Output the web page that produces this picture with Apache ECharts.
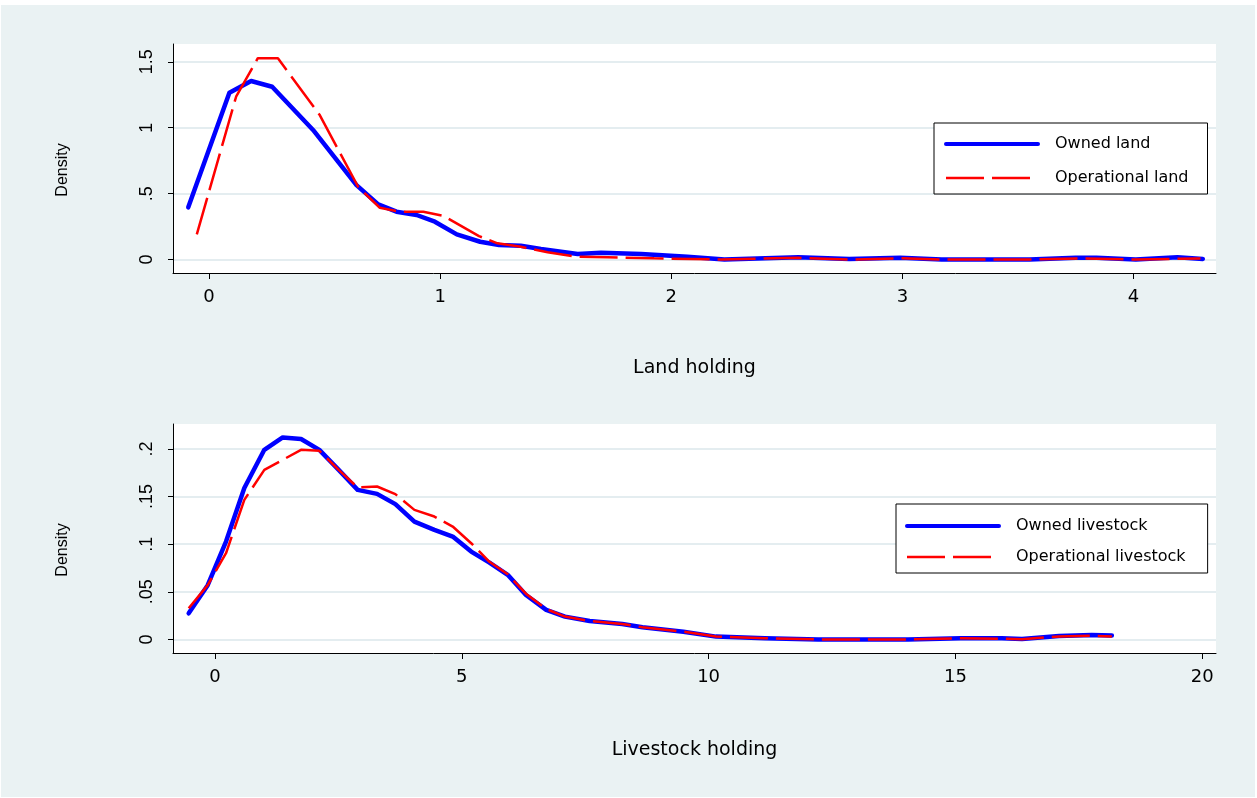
<!DOCTYPE html>
<html>
<head>
<meta charset="utf-8">
<title>Land and livestock holding densities</title>
<script src="https://cdn.jsdelivr.net/npm/echarts@6/dist/echarts.min.js"></script>
<style>
  html, body { margin: 0; padding: 0; background: #fff; }
  #bg { position: absolute; left: 1px; top: 5px; width: 1254px; height: 792px; background: #eaf2f3; }
  #chart { position: absolute; left: 0; top: 0; width: 1257px; height: 798px; }
</style>
</head>
<body>
<div id="bg"></div>
<div id="chart"></div>
<script>
// 上图：土地 (Land holding)
const landOwnedX = [-0.09, 0.088, 0.182, 0.273, 0.45, 0.638, 0.732, 0.811, 0.898, 0.977, 1.072, 1.173, 1.255, 1.349, 1.436, 1.595, 1.696, 1.87, 2.07, 2.23, 2.55, 2.77, 2.99, 3.17, 3.55, 3.75, 3.84, 4.01, 4.19, 4.30];
const landOwnedY = [0.396, 1.266, 1.354, 1.311, 0.983, 0.565, 0.419, 0.363, 0.338, 0.287, 0.191, 0.135, 0.11, 0.105, 0.08, 0.042, 0.052, 0.042, 0.021, 0.0, 0.018, 0.005, 0.013, 0.0, 0.0, 0.013, 0.013, 0.0, 0.018, 0.005];
const landOperX = [-0.053, 0.117, 0.211, 0.298, 0.479, 0.645, 0.739, 0.826, 0.927, 1.014, 1.168, 1.248, 1.349, 1.465, 1.595, 1.725, 1.926, 2.217, 2.55, 2.77, 2.99, 3.17, 3.55, 3.78, 4.01, 4.29];
const landOperY = [0.191, 1.235, 1.527, 1.527, 1.096, 0.552, 0.393, 0.363, 0.363, 0.332, 0.178, 0.123, 0.097, 0.055, 0.021, 0.017, 0.009, 0.0, 0.013, 0.0, 0.01, 0.0, 0.0, 0.008, 0.0, 0.008];
const landXTicks = [0, 1, 2, 3, 4];
const landYTicks = [0, 0.5, 1, 1.5];

// 下图：牲畜 (Livestock holding)
const stockX = [-0.533, -0.148, 0.223, 0.594, 0.999, 1.372, 1.743, 2.114, 2.506, 2.89, 3.283, 3.654, 4.04, 4.444, 4.816, 5.19, 5.56, 5.93, 6.30, 6.71, 7.09, 7.59, 8.25, 8.66, 9.49, 10.15, 11.14, 12.22, 14.04, 15.11, 15.94, 16.35, 17.1, 17.76, 18.17];
const stockOwnedY = [0.0275, 0.057, 0.1027, 0.159, 0.199, 0.212, 0.2103, 0.199, 0.178, 0.157, 0.1528, 0.142, 0.1237, 0.115, 0.108, 0.0922, 0.0807, 0.0678, 0.0467, 0.031, 0.024, 0.0194, 0.0163, 0.0128, 0.0082, 0.003, 0.0013, 0, 0, 0.0013, 0.0013, 0.0005, 0.0037, 0.0047, 0.0042];
const stockOperY = [0.0328, 0.057, 0.0905, 0.1465, 0.178, 0.1885, 0.199, 0.198, 0.178, 0.1595, 0.1605, 0.1525, 0.136, 0.129, 0.1185, 0.101, 0.0815, 0.0685, 0.048, 0.032, 0.024, 0.0194, 0.0163, 0.0128, 0.0082, 0.003, 0.0013, 0, 0, 0.0013, 0.0008, 0.0002, 0.0032, 0.004, 0.003];
const stockXTicks = [0, 5, 10, 15, 20];
const stockYTicks = [0, 0.05, 0.1, 0.15, 0.2];

const BLUE = '#0000ff';
const RED = '#ff0000';
const GRIDLINE = '#e4edf0';
const DASH = [38, 8];

const pairs = (xs, ys) => xs.map((x, i) => [x, ys[i]]);
// Stata 风格: 0.5 -> .5
const dotFmt = v => String(v).replace(/^0\./, '.');

function makeXAxis(gridIndex, min, max, ticks, name, nameGap) {
    return {
        type: 'value', gridIndex, min, max,
        name, nameLocation: 'middle', nameGap,
        nameTextStyle: { fontFamily: 'DejaVu Sans', fontSize: 19, color: '#000' },
        axisLine: { show: true, onZero: false, lineStyle: { color: '#000', width: 1 } },
        axisTick: { show: true, length: 6, customValues: ticks, lineStyle: { color: '#000' } },
        axisLabel: { customValues: ticks, margin: 15, fontFamily: 'DejaVu Sans', fontSize: 18, color: '#000' },
        splitLine: { show: false }
    };
}

function makeYAxis(gridIndex, min, max, ticks) {
    return {
        type: 'value', gridIndex, min, max,
        name: 'Density', nameLocation: 'middle', nameGap: 102, nameRotate: 90,
        nameTextStyle: { fontFamily: 'Liberation Sans', fontSize: 16, color: '#000', padding: [0, 23, 0, 0] },
        axisLine: { show: true, onZero: false, lineStyle: { color: '#000', width: 1 } },
        axisTick: { show: true, length: 5, customValues: ticks, lineStyle: { color: '#000' } },
        axisLabel: { customValues: ticks, rotate: 90, margin: 17, formatter: dotFmt, fontFamily: 'Liberation Sans', fontSize: 18, color: '#000' },
        splitLine: { show: true, lineStyle: { color: GRIDLINE, width: 2 } }
    };
}

// 图例：实线蓝 + 虚线红，不显示圆点
function makeLegend(left, top, names, padding, itemGap) {
    return {
        orient: 'vertical', left, top,
        data: [
            { name: names[0], lineStyle: { color: BLUE, width: 4, type: 'solid', cap: 'round' } },
            { name: names[1], lineStyle: { color: RED, width: 2.5, type: DASH } }
        ],
        itemWidth: 92, itemHeight: 20, itemGap, padding,
        itemStyle: { opacity: 0 },
        borderColor: '#000', borderWidth: 1, borderRadius: 0, backgroundColor: '#fff',
        textStyle: { fontFamily: 'DejaVu Sans', fontSize: 16, color: '#000', padding: [0, 0, 0, 12] }
    };
}

function ownedSeries(name, idx, data) {
    return {
        type: 'line', name, xAxisIndex: idx, yAxisIndex: idx, data,
        symbol: 'none', z: 2,
        lineStyle: { color: BLUE, width: 4.5, cap: 'round', join: 'round' },
        itemStyle: { color: BLUE }
    };
}

function operSeries(name, idx, data) {
    return {
        type: 'line', name, xAxisIndex: idx, yAxisIndex: idx, data,
        symbol: 'none', z: 3,
        lineStyle: { color: RED, width: 2.5, type: DASH },
        itemStyle: { color: RED }
    };
}

const chart = echarts.init(document.getElementById('chart'), null, { renderer: 'canvas' });
chart.setOption({
    animation: false,
    backgroundColor: 'transparent',
    grid: [
        { left: 173, top: 44, width: 1043, height: 229, show: true, backgroundColor: '#fff', borderWidth: 0 },
        { left: 173, top: 424, width: 1043, height: 229, show: true, backgroundColor: '#fff', borderWidth: 0 }
    ],
    xAxis: [
        makeXAxis(0, -0.156, 4.357, landXTicks, 'Land holding', 86),
        makeXAxis(1, -0.851, 20.28, stockXTicks, 'Livestock holding', 88)
    ],
    yAxis: [
        makeYAxis(0, -0.102, 1.635, landYTicks),
        makeYAxis(1, -0.0142, 0.2261, stockYTicks)
    ],
    legend: [
        makeLegend(934, 123, ['Owned land', 'Operational land'], [13, 19, 8, 10], 18),
        makeLegend(896, 504, ['Owned livestock', 'Operational livestock'], [14, 22, 8, 9], 15)
    ],
    series: [
        ownedSeries('Owned land', 0, pairs(landOwnedX, landOwnedY)),
        operSeries('Operational land', 0, pairs(landOperX, landOperY)),
        ownedSeries('Owned livestock', 1, pairs(stockX, stockOwnedY)),
        operSeries('Operational livestock', 1, pairs(stockX, stockOperY))
    ]
});
</script>
</body>
</html>
